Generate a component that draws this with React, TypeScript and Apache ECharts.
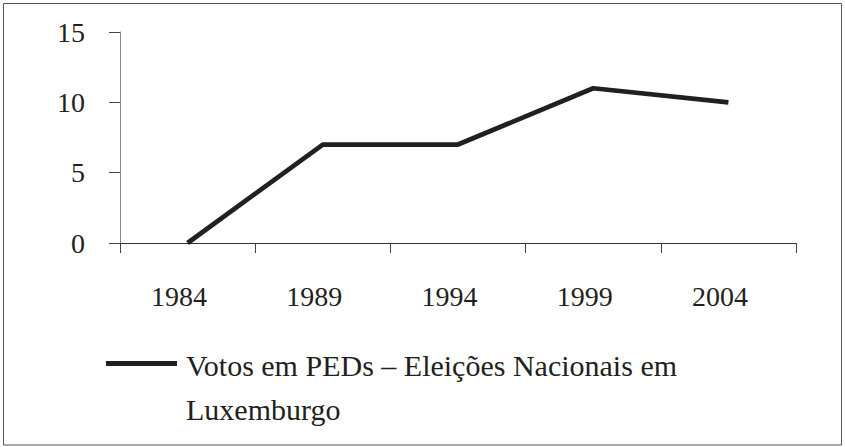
import React, { useEffect, useRef } from "react";
import * as echarts from "echarts";

const categories = ["1984", "1989", "1994", "1999", "2004"];
const seriesName = "Votos em PEDs – Eleições Nacionais em Luxemburgo";
const legendLines = ["Votos em PEDs – Eleições Nacionais em", "Luxemburgo"];
const values = [0, 7, 7, 11, 10];
const yTicks = { min: 0, max: 15, interval: 5 };

const FONT = "Liberation Serif";
const INK = "#231f20";

export default function App() {
  const ref = useRef<HTMLDivElement>(null);
  useEffect(() => {
    if (!ref.current) return;
    const chart = echarts.init(ref.current, undefined, { renderer: "svg" });
    chart.setOption({
      animation: false,
      backgroundColor: "#ffffff",
      graphic: [
        {
          type: "rect",
          shape: { x: 3.5, y: 3.5, width: 838, height: 441.5 },
          style: { fill: "none", stroke: "#555", lineWidth: 1 },
          silent: true,
        },
        {
          type: "rect",
          shape: { x: 106, y: 361, width: 71, height: 5 },
          style: { fill: INK },
          silent: true,
        },
        {
          type: "text",
          x: 186,
          y: 343.5,
          silent: true,
          style: {
            text: legendLines.join("\n"),
            fontFamily: FONT,
            fontSize: 30,
            lineHeight: 44,
            fill: INK,
            align: "left",
            verticalAlign: "top",
          },
        },
      ],
      grid: { left: 120, right: 49, top: 32, bottom: 204, containLabel: false },
      xAxis: {
        type: "category",
        data: categories,
        boundaryGap: true,
        axisLine: { show: true, lineStyle: { color: "#333", width: 1 } },
        axisTick: { show: true, length: 10, alignWithLabel: false, lineStyle: { color: "#444" } },
        axisLabel: {
          margin: 39,
          fontFamily: FONT,
          fontSize: 28,
          color: INK,
          padding: [0, 17, 0, 0],
        },
        splitLine: { show: false },
      },
      yAxis: {
        type: "value",
        min: yTicks.min,
        max: yTicks.max,
        interval: yTicks.interval,
        axisLine: { show: true, lineStyle: { color: "#888", width: 1 } },
        axisTick: { show: true, length: 11, lineStyle: { color: "#444" } },
        axisLabel: {
          margin: 35,
          fontFamily: FONT,
          fontSize: 28,
          color: INK,
          padding: [9, 0, 0, 0],
        },
        splitLine: { show: false },
      },
      legend: { show: false, data: [seriesName] },
      series: [
        {
          name: seriesName,
          type: "line",
          data: values,
          symbol: "none",
          lineStyle: { color: INK, width: 4.7 },
          itemStyle: { color: INK },
        },
      ],
    });
    return () => chart.dispose();
  }, []);
  return (
    <div
      ref={ref}
      style={{ position: "fixed", left: 0, top: 0, width: 845, height: 447, background: "#fff" }}
    />
  );
}
